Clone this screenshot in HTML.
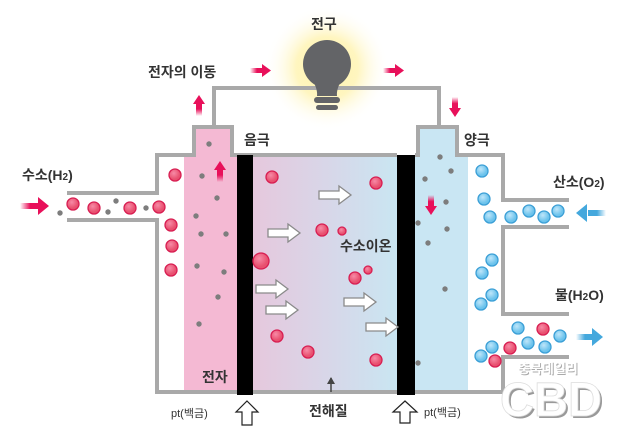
<!DOCTYPE html>
<html><head><meta charset="utf-8"><style>
html,body{margin:0;padding:0;background:#fff;width:625px;height:442px;overflow:hidden}
svg text{font-family:"Liberation Sans","Noto Sans CJK KR",sans-serif;fill:#333}
</style></head><body>
<svg width="625" height="442" viewBox="0 0 625 442" xmlns="http://www.w3.org/2000/svg">
<defs>
<linearGradient id="el" x1="0" x2="1" y1="0" y2="0">
<stop offset="0" stop-color="#e6c8dd"/><stop offset="0.5" stop-color="#d8d6e8"/><stop offset="1" stop-color="#c9e6f2"/></linearGradient>
<radialGradient id="glow"><stop offset="0" stop-color="#fff5a8"/><stop offset="0.5" stop-color="#fff3b0" stop-opacity="0.8"/><stop offset="1" stop-color="#fff" stop-opacity="0"/></radialGradient>
<radialGradient id="pk" cx="0.4" cy="0.35"><stop offset="0" stop-color="#f78aa6"/><stop offset="1" stop-color="#e8506f"/></radialGradient>
<radialGradient id="bl" cx="0.4" cy="0.35"><stop offset="0" stop-color="#bfe6fa"/><stop offset="1" stop-color="#6cc3ec"/></radialGradient>
<linearGradient id="pa" x1="0" x2="1"><stop offset="0" stop-color="#e8105a" stop-opacity="0"/><stop offset="0.5" stop-color="#e8105a"/></linearGradient>
<linearGradient id="pau" x1="0" x2="0" y1="1" y2="0"><stop offset="0" stop-color="#e8105a" stop-opacity="0"/><stop offset="0.5" stop-color="#e8105a"/></linearGradient>
<linearGradient id="pad" x1="0" x2="0" y1="0" y2="1"><stop offset="0" stop-color="#e8105a" stop-opacity="0"/><stop offset="0.5" stop-color="#e8105a"/></linearGradient>
<linearGradient id="ba" x1="1" x2="0"><stop offset="0" stop-color="#44a8dd" stop-opacity="0"/><stop offset="0.5" stop-color="#44a8dd"/></linearGradient>
<linearGradient id="bar" x1="0" x2="1"><stop offset="0" stop-color="#44a8dd" stop-opacity="0"/><stop offset="0.5" stop-color="#44a8dd"/></linearGradient>
</defs>
<circle cx="327" cy="68" r="62" fill="url(#glow)"/>
<rect x="184" y="156" width="53" height="235" fill="#f4b9d3"/>
<rect x="196" y="129" width="35" height="28" fill="#f4b9d3"/>
<rect x="253" y="156" width="145" height="235" fill="url(#el)"/>
<rect x="415" y="156" width="53" height="235" fill="#c9e6f3"/>
<rect x="419" y="129" width="36" height="28" fill="#c9e6f3"/>
<g fill="none" stroke="#a9a9a9" stroke-width="4">
<polyline points="67,193 157,193 157,155 194,155 194,127 232,127 232,155 397,155"/>
<polyline points="67,220 157,220 157,392 504,392"/>
<polyline points="415,155 418,155 418,127 457,127 457,155 503,155 503,200 569,200"/>
<polyline points="569,227 503,227 503,314 569,314"/>
<polyline points="569,357 503,357 503,392"/>
<polyline points="214,127 214,88 439,88 439,127"/>
</g>
<rect x="237" y="155" width="16" height="240" fill="#000"/>
<rect x="397" y="155" width="18" height="240" fill="#000"/>
<!-- bulb -->
<circle cx="327" cy="64" r="24" fill="#636467"/>
<path d="M310,76 Q318,88 317,96 L337,96 Q336,88 344,76 Z" fill="#636467"/>
<rect x="314" y="97" width="26" height="6" rx="3" fill="#636467"/>
<rect x="316" y="105" width="22" height="5" rx="2.5" fill="#636467"/>
<g fill="url(#pk)" stroke="#d81e52" stroke-width="1.3">
<circle cx="175" cy="175" r="6"/>
<circle cx="73" cy="204" r="6"/><circle cx="94" cy="208" r="6"/><circle cx="130" cy="208" r="6"/><circle cx="159" cy="207" r="6"/>
<circle cx="171" cy="225" r="6"/><circle cx="172" cy="246" r="6"/><circle cx="171" cy="270" r="6"/>
<circle cx="272" cy="177" r="6"/><circle cx="261" cy="261" r="8"/><circle cx="277" cy="336" r="6"/><circle cx="308" cy="352" r="6"/>
<circle cx="376" cy="183" r="6"/><circle cx="322" cy="230" r="6"/><circle cx="342" cy="231" r="4"/>
<circle cx="355" cy="278" r="6"/><circle cx="368" cy="270" r="4"/><circle cx="376" cy="360" r="6"/>
<circle cx="543" cy="329" r="6"/><circle cx="510" cy="348" r="6"/><circle cx="495" cy="361" r="6"/>
</g>
<g fill="url(#bl)" stroke="#3b9fd6" stroke-width="1.3">
<circle cx="482" cy="171" r="6"/><circle cx="484" cy="199" r="6"/><circle cx="490" cy="217" r="6"/><circle cx="511" cy="217" r="6"/><circle cx="529" cy="211" r="6"/><circle cx="544" cy="217" r="6"/><circle cx="558" cy="211" r="6"/>
<circle cx="482" cy="273" r="6"/><circle cx="492" cy="260" r="6"/><circle cx="481" cy="304" r="6"/><circle cx="492" cy="295" r="6"/>
<circle cx="518" cy="328" r="6"/><circle cx="560" cy="336" r="6"/><circle cx="528" cy="343" r="6"/><circle cx="545" cy="347" r="6"/><circle cx="492" cy="347" r="6"/><circle cx="481" cy="356" r="6"/>
</g>
<g fill="#7d7d7d">
<circle cx="209" cy="144" r="2.7"/><circle cx="202" cy="176" r="2.7"/><circle cx="217" cy="198" r="2.7"/><circle cx="196" cy="216" r="2.7"/><circle cx="201" cy="234" r="2.7"/><circle cx="226" cy="234" r="2.7"/><circle cx="197" cy="266" r="2.7"/><circle cx="224" cy="272" r="2.7"/><circle cx="218" cy="297" r="2.7"/><circle cx="199" cy="324" r="2.7"/>
<circle cx="60" cy="213" r="2.7"/><circle cx="108" cy="212" r="2.7"/><circle cx="116" cy="201" r="2.7"/><circle cx="146" cy="208" r="2.7"/>
<circle cx="440" cy="157" r="2.7"/><circle cx="451" cy="171" r="2.7"/><circle cx="425" cy="179" r="2.7"/><circle cx="446" cy="202" r="2.7"/><circle cx="418" cy="223" r="2.7"/><circle cx="447" cy="229" r="2.7"/><circle cx="428" cy="243" r="2.7"/><circle cx="445" cy="289" r="2.7"/><circle cx="418" cy="363" r="2.7"/>
</g>
<g fill="#fff" stroke="#8a8a8a" stroke-width="1.3">
<path d="M0,-4 L20,-4 L20,-9 L32,0 L20,9 L20,4 L0,4 Z" transform="translate(268,233)"/>
<path d="M0,-4 L20,-4 L20,-9 L32,0 L20,9 L20,4 L0,4 Z" transform="translate(256,289)"/>
<path d="M0,-4 L20,-4 L20,-9 L32,0 L20,9 L20,4 L0,4 Z" transform="translate(266,310)"/>
<path d="M0,-4 L20,-4 L20,-9 L32,0 L20,9 L20,4 L0,4 Z" transform="translate(319,195)"/>
<path d="M0,-4 L20,-4 L20,-9 L32,0 L20,9 L20,4 L0,4 Z" transform="translate(344,302)"/>
<path d="M0,-4 L20,-4 L20,-9 L32,0 L20,9 L20,4 L0,4 Z" transform="translate(366,327)"/>
</g>
<g fill="#fff" stroke="#222" stroke-width="1.2">
<path d="M247,401 L258,412 L252,412 L252,425 L242,425 L242,412 L236,412 Z"/>
<path d="M405,401 L417,412 L410,412 L410,423 L400,423 L400,412 L393,412 Z"/>
</g>
<path d="M331,378 L331,392" stroke="#444" stroke-width="1.5"/><path d="M327,384 L331,377 L335,384 Z" fill="#444"/>
<g>
<rect x="20" y="203" width="20" height="6" fill="url(#pa)"/><path d="M38,197 L49,206 L38,215 Z" fill="#e8105a"/>
<rect x="217" y="168" width="6" height="14" fill="url(#pau)"/><path d="M214,170 L220,161 L226,170 Z" fill="#e8105a"/>
<rect x="196" y="102" width="6" height="14" fill="url(#pau)"/><path d="M193,104 L199,95 L205,104 Z" fill="#e8105a"/>
<rect x="250" y="68" width="14" height="5" fill="url(#pa)"/><path d="M262,64 L271,70.5 L262,77 Z" fill="#e8105a"/>
<rect x="383" y="68" width="14" height="5" fill="url(#pa)"/><path d="M395,64 L404,70.5 L395,77 Z" fill="#e8105a"/>
<rect x="452" y="97" width="6" height="13" fill="url(#pad)"/><path d="M449,108 L455,117 L461,108 Z" fill="#e8105a"/>
<rect x="428" y="195" width="6" height="13" fill="url(#pad)"/><path d="M425,206 L431,215 L437,206 Z" fill="#e8105a"/>
<rect x="588" y="210" width="18" height="6" fill="url(#ba)"/><path d="M587,204 L576,213 L587,222 Z" fill="#44a8dd"/>
<rect x="576" y="334" width="18" height="6" fill="url(#bar)"/><path d="M592,328 L603,337 L592,346 Z" fill="#44a8dd"/>
</g>
<g font-size="14" font-weight="bold">
<text x="311" y="29">전구</text>
<text x="148" y="77">전자의 이동</text>
<text x="244" y="145">음극</text>
<text x="464" y="145">양극</text>
<text x="22" y="180">수소(H<tspan font-size="10">2</tspan>)</text>
<text x="553" y="187">산소(O<tspan font-size="10">2</tspan>)</text>
<text x="340" y="251">수소이온</text>
<text x="555" y="300">물(H<tspan font-size="10">2</tspan>O)</text>
<text x="202" y="382">전자</text>
<text x="309" y="416">전해질</text>
</g>
<text x="171" y="417" font-size="11">pt(백금)</text>
<text x="424" y="416" font-size="11">pt(백금)</text>
<text x="519" y="374" font-size="13" font-weight="bold" style="fill:#aaa">충북데일리</text>
<text x="518" y="373" font-size="13" font-weight="bold" style="fill:#fff">충북데일리</text>
<text x="502" y="418" font-size="48" font-weight="bold" textLength="102" lengthAdjust="spacingAndGlyphs" style="fill:#999">CBD</text>
<text x="500" y="416" font-size="48" font-weight="bold" textLength="102" lengthAdjust="spacingAndGlyphs" style="fill:#fff;stroke:#ddd;stroke-width:0.8">CBD</text>
</svg>
</body></html>
